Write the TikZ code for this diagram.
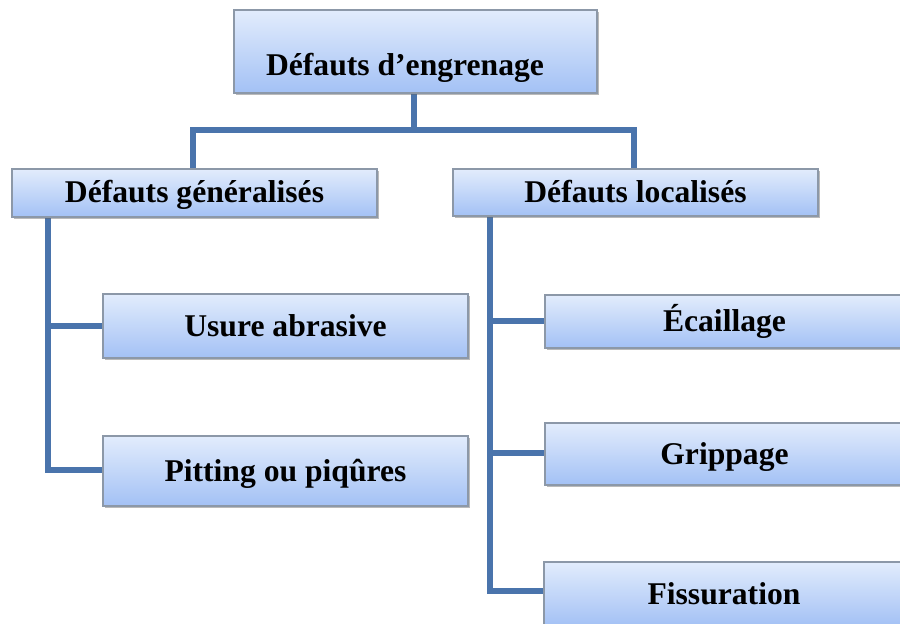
\documentclass[tikz,border=0pt]{standalone}
\usepackage{fontspec}
\setmainfont{Liberation Serif}
\usetikzlibrary{shadows}
\definecolor{boxtop}{HTML}{E2ECFC}
\definecolor{boxbot}{HTML}{A3C1F5}
\definecolor{boxline}{HTML}{8C98A8}
\definecolor{conn}{HTML}{4A74AC}
\tikzset{
  box/.style={draw=boxline, line width=1pt, top color=boxtop, bottom color=boxbot,
    drop shadow={shadow xshift=0.06cm, shadow yshift=-0.07cm, opacity=0.45, fill=black!60},
    inner sep=0pt, text height=0.8cm, text depth=0.2cm,
    font=\bfseries\fontsize{27}{30}\selectfont},
  lbl/.style={font=\bfseries\fontsize{27}{30}\selectfont, inner sep=0pt,
    text height=0.8cm, text depth=0.2cm},
  conn/.style={draw=conn, line width=4.8pt, line cap=rect, line join=miter}
}
\newcommand{\bx}[6]{% name, x1, y1, x2, y2, text
  \node[box, minimum width={(#4-#2)*0.03cm}, minimum height={(#5-#3)*0.03cm}]
    (#1) at ({(#2+#4)/2},{(#3+#5)/2}) {#6};}
\begin{document}
\begin{tikzpicture}[x=0.03cm, y=-0.03cm]
\useasboundingbox (0,0) rectangle (900,624);
% connectors first (under boxes)
\coordinate (jt) at (414,130);
\coordinate (jl) at (193,130);
\coordinate (jr) at (634,130);
\coordinate (ltop) at (48,217);
\coordinate (rtop) at (490,216);
\coordinate (l1) at (48,326);
\coordinate (l2) at (48,470);
\coordinate (r1) at (490,321);
\coordinate (r2) at (490,453);
\coordinate (r3) at (490,591);
\draw[conn] (414,93) -- (jt);
\draw[conn] (jl) -- (jr);
\draw[conn] (jl) -- (193,169);
\draw[conn] (jr) -- (634,169);
\draw[conn] (ltop) -- (l2) -- (103,470);
\draw[conn] (l1) -- (103,326);
\draw[conn] (rtop) -- (r3) -- (545,591);
\draw[conn] (r1) -- (545,321);
\draw[conn] (r2) -- (545,453);
% boxes
\bx{top}{234}{10}{597}{93}{}
\node[lbl] (toptext) at (405,66) {Défauts d’engrenage};
\bx{gen}{12}{169}{377}{217}{Défauts généralisés}
\bx{loc}{453}{169}{818}{216}{Défauts localisés}
\bx{usure}{103}{294}{468}{358}{Usure abrasive}
\bx{pit}{103}{436}{468}{506}{Pitting ou piqûres}
\bx{eca}{545}{295}{910}{348}{\hspace*{-0.18cm}Écaillage}
\bx{grip}{545}{423}{910}{485}{\hspace*{-0.18cm}Grippage}
\bx{fis}{544}{562}{910}{626}{\hspace*{-0.18cm}Fissuration}
\end{tikzpicture}
\end{document}
